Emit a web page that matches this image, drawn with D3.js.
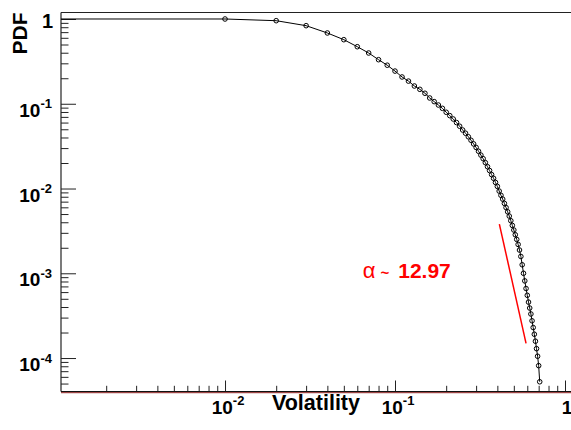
<!DOCTYPE html>
<html><head><meta charset="utf-8">
<script src="https://cdn.jsdelivr.net/npm/d3@7"></script>
<style>html,body{margin:0;padding:0;background:#fff;} svg{display:block;}</style>
</head><body>
<svg id="c" width="571" height="430"></svg>
<script>
// ---- data ----
const volatility = [0.01,0.02,0.03,0.04,0.05,0.06,0.07,0.08,0.09,0.10,
  0.11,0.12,0.13,0.14,0.15,0.16,0.17,0.18,0.19,0.20,
  0.21,0.22,0.23,0.24,0.25,0.26,0.27,0.28,0.29,0.30,
  0.31,0.32,0.33,0.34,0.35,0.36,0.37,0.38,0.39,0.40,
  0.41,0.42,0.43,0.44,0.45,0.46,0.47,0.48,0.49,0.50,
  0.51,0.52,0.53,0.54,0.55,0.56,0.57,0.58,0.59,0.60,
  0.61,0.62,0.63,0.64,0.65,0.66,0.67,0.68,0.69,0.70,0.71];
const pdf = [1.0,0.955,0.834,0.684,0.570,0.471,0.397,0.331,0.285,0.243,
  0.207,0.185,0.162,0.148,0.133,0.117,0.106,0.0966,0.0883,0.0794,
  0.0724,0.0661,0.0600,0.0543,0.0490,0.0449,0.0408,0.0371,0.0336,0.0305,
  0.0275,0.0248,0.0225,0.0202,0.0181,0.0163,0.0146,0.0132,0.0118,0.0106,
  0.00933,0.00832,0.00750,0.00668,0.00596,0.00531,0.00473,0.00417,0.00367,0.00324,
  0.00285,0.00251,0.00219,0.00188,0.00158,0.00126,0.00100,0.000813,0.000661,0.000550,
  0.000457,0.000389,0.000331,0.000275,0.000229,0.000191,0.000158,0.000129,0.000105,0.0000813,0.0000525];
const fitX = [0.411, 0.590];
const fitY = [0.00381, 0.000149];
const fitLabel = {x: 0.0646, y: 0.000879, alpha: "\u03b1", tilde: "~", value: "12.97"};
const xMajor = [0.01, 0.1, 1];
const xMajorLabels = [["10","-2"],["10","-1"],["1",""]];
const yMajor = [0.0001, 0.001, 0.01, 0.1, 1];
const yMajorLabels = [["10","-4"],["10","-3"],["10","-2"],["10","-1"],["1",""]];
const xTitle = "Volatility";
const yTitle = "PDF";

// ---- layout ----
const W = 571, H = 430;
const L = 61, R = 571, T = 12.5, B = 391.5;
const FONT = "'Liberation Sans', Arial, Helvetica, sans-serif";
const svg = d3.select("#c");

const x = d3.scaleLog().domain([0.0010843, 1]).range([L, 565]);
const y = d3.scaleLog().domain([4.03e-5, 1.193]).range([B, T]);

function minors(scale){
  const [a,b] = scale.domain();
  const out = [];
  for (let e = Math.floor(Math.log10(a)); e <= Math.ceil(Math.log10(b)); e++){
    for (let k = 2; k <= 9; k++){ const v = k*Math.pow(10,e); if (v>=a && v<=b) out.push(v); }
  }
  return out;
}

// frame lines
svg.append("line").attr("x1",L).attr("x2",R).attr("y1",T).attr("y2",T).attr("stroke","#222").attr("stroke-width",1.2);
svg.append("line").attr("x1",L).attr("x2",L).attr("y1",T).attr("y2",B).attr("stroke","#222").attr("stroke-width",1.2);

// y axis ticks
const yMinAx = d3.axisRight(y).tickValues(minors(y)).tickSize(7.5).tickFormat("");
const yMajAx = d3.axisRight(y).tickValues(yMajor).tickSize(15).tickFormat("");
[yMinAx, yMajAx].forEach(ax=>{
  const g = svg.append("g").attr("transform",`translate(${L},0)`).call(ax);
  g.select(".domain").remove();
  g.selectAll("line").attr("stroke","#222").attr("stroke-width",1);
});
// x axis ticks
const xMinAx = d3.axisTop(x).tickValues(minors(x)).tickSize(5.7).tickFormat("");
const xMajAx = d3.axisTop(x).tickValues(xMajor).tickSize(11).tickFormat("");
[xMinAx, xMajAx].forEach(ax=>{
  const g = svg.append("g").attr("transform",`translate(0,${B})`).call(ax);
  g.select(".domain").remove();
  g.selectAll("line").attr("stroke","#222").attr("stroke-width",1);
});
// bottom axis line (black with dark red underline)
svg.append("line").attr("x1",L).attr("x2",R).attr("y1",B).attr("y2",B).attr("stroke","#111").attr("stroke-width",1.2);
svg.append("line").attr("x1",L).attr("x2",R).attr("y1",B+1.2).attr("y2",B+1.2).attr("stroke","#7a0000").attr("stroke-width",0.9);

// y labels
yMajor.forEach((v,i)=>{
  const [base,exp] = yMajorLabels[i];
  if (exp===""){
    svg.append("text").attr("x",53).attr("y",y(v)+9.5).attr("text-anchor","end")
      .attr("font-family",FONT).attr("font-weight","bold").attr("font-size",20).text(base);
  } else {
    const t = svg.append("text").attr("x",52).attr("y",y(v)+13).attr("text-anchor","end")
      .attr("font-family",FONT).attr("font-weight","bold").attr("font-size",19);
    t.append("tspan").text(base);
    t.append("tspan").attr("dy",-8.5).attr("font-size",13).text(exp);
  }
});
// x labels
xMajor.forEach((v,i)=>{
  const [base,exp] = xMajorLabels[i];
  const t = svg.append("text").attr("x",x(v)+(exp===""?2:3)).attr("y",414).attr("text-anchor","middle")
    .attr("font-family",FONT).attr("font-weight","bold").attr("font-size",19);
  t.append("tspan").text(base);
  if (exp!=="") t.append("tspan").attr("dy",-9).attr("font-size",13).text(exp);
});

// titles
svg.append("text").attr("x",(L+R)/2).attr("y",410).attr("text-anchor","middle")
  .attr("font-family",FONT).attr("font-weight","bold").attr("font-size",21.5).text(xTitle);
svg.append("text").attr("transform",`translate(26.5,${T})rotate(-90)`).attr("text-anchor","end")
  .attr("font-family",FONT).attr("font-weight","bold").attr("font-size",21).text(yTitle);

// data line
const pts = volatility.map((v,i)=>[v,pdf[i]]);
const linePts = [[x.domain()[0], pdf[0]]].concat(pts);
svg.append("path").datum(linePts)
  .attr("d", d3.line().x(d=>x(d[0])).y(d=>y(d[1])))
  .attr("fill","none").attr("stroke","#000").attr("stroke-width",1);
svg.append("g").selectAll("circle").data(pts).join("circle")
  .attr("cx",d=>x(d[0])).attr("cy",d=>y(d[1])).attr("r",2.3)
  .attr("fill","none").attr("stroke","#000").attr("stroke-width",1);

// fit line
svg.append("line").attr("x1",x(fitX[0])).attr("y1",y(fitY[0])).attr("x2",x(fitX[1])).attr("y2",y(fitY[1]))
  .attr("stroke","#ff0000").attr("stroke-width",1.5);
const lt = svg.append("text").attr("x",x(fitLabel.x)).attr("y",y(fitLabel.y))
  .attr("font-family",FONT).attr("fill","#ff0000");
lt.append("tspan").attr("font-size",22).text(fitLabel.alpha);
lt.append("tspan").attr("font-size",15).attr("font-weight","bold").attr("dx",5).text(fitLabel.tilde);
lt.append("tspan").attr("font-size",21).attr("font-weight","bold").attr("dx",9).text(fitLabel.value);
</script>
</body></html>
